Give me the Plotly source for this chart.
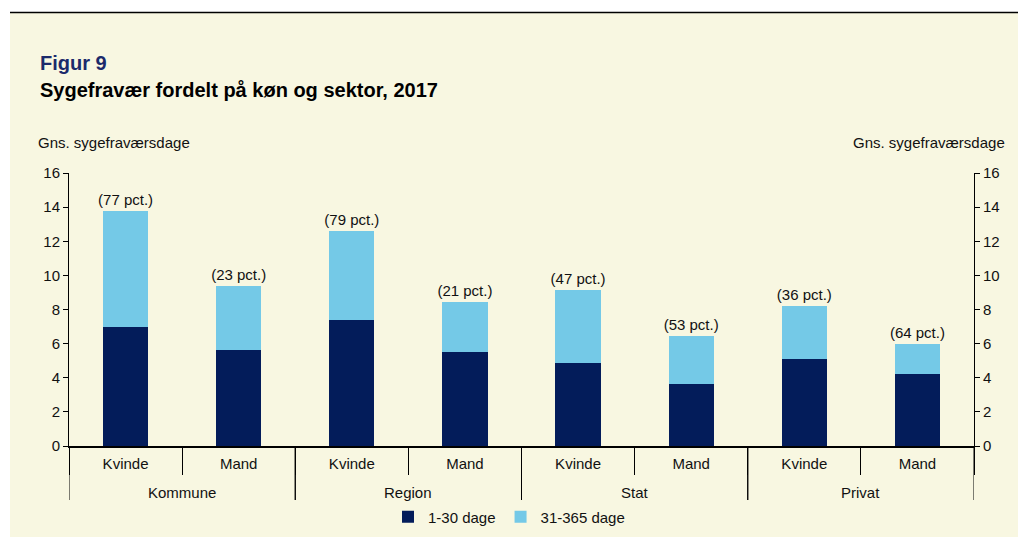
import plotly.graph_objects as go

# ---- data ----
sectors = ["Kommune", "Kommune", "Region", "Region", "Stat", "Stat", "Privat", "Privat"]
genders = ["Kvinde", "Mand", "Kvinde", "Mand", "Kvinde", "Mand", "Kvinde", "Mand"]
short_days = [7.0, 5.6, 7.4, 5.5, 4.85, 3.65, 5.1, 4.2]      # 1-30 dage
long_days = [6.8, 3.75, 5.2, 2.95, 4.3, 2.8, 3.1, 1.78]      # 31-365 dage
pct_labels = ["(77 pct.)", "(23 pct.)", "(79 pct.)", "(21 pct.)",
              "(47 pct.)", "(53 pct.)", "(36 pct.)", "(64 pct.)"]
y_ticks = [0, 2, 4, 6, 8, 10, 12, 14, 16]

W, H = 1018, 537
ML, MR, MT, MB = 69, 44, 173, 91
PW, PH = W - ML - MR, H - MT - MB

def px_x(px):
    return (px - ML) / PW

def px_y(py):
    return (H - MB - py) / PH

FONT = "Liberation Sans, Arial, sans-serif"
TXT = "#111111"
DARK = "#031c5a"
LIGHT = "#74c9e7"
BG = "#f8f7e1"

cats = [f"{s}|{g}" for s, g in zip(sectors, genders)]
totals = [a + b for a, b in zip(short_days, long_days)]

fig = go.Figure()
fig.add_trace(go.Bar(x=cats, y=short_days, name="1-30 dage",
                     marker=dict(color=DARK, line=dict(width=0)), hoverinfo="skip"))
fig.add_trace(go.Bar(x=cats, y=long_days, name="31-365 dage",
                     marker=dict(color=LIGHT, line=dict(width=0)),
                     text=pct_labels, textposition="outside", cliponaxis=False, constraintext="none",
                     textfont=dict(size=15, color=TXT, family=FONT), hoverinfo="skip"))
# invisible trace to activate right axis
fig.add_trace(go.Scatter(x=cats, y=totals, yaxis="y2", mode="markers",
                         marker=dict(opacity=0), showlegend=False, hoverinfo="skip"))

shapes = [
    dict(type="rect", xref="paper", yref="paper", x0=px_x(0), x1=px_x(W), y0=px_y(12.5), y1=px_y(0),
         fillcolor="white", line=dict(width=0), layer="below"),
    dict(type="rect", xref="paper", yref="paper", x0=px_x(0), x1=px_x(10), y0=px_y(H), y1=px_y(0),
         fillcolor="white", line=dict(width=0), layer="below"),
    dict(type="line", xref="paper", yref="paper", x0=px_x(10), x1=px_x(W), y0=px_y(12.5), y1=px_y(12.5),
         line=dict(color="black", width=1.5)),
]

# sector group dividers and labels
unique_sectors = []
for s in sectors:
    if s not in unique_sectors:
        unique_sectors.append(s)
annotations = []
for s in unique_sectors:
    idx = [i for i, v in enumerate(sectors) if v == s]
    lo, hi = idx[0] - 0.5, idx[-1] + 0.5
    for xb in (lo, hi):
        shapes.append(dict(type="line", xref="x", yref="paper", x0=xb, x1=xb, y0=0, y1=px_y(500),
                           line=dict(color="#000", width=1)))
    annotations.append(dict(text=s, xref="x", yref="paper", x=(lo + hi) / 2, y=px_y(492),
                            xanchor="center", yanchor="middle", showarrow=False,
                            font=dict(size=15, color=TXT, family=FONT)))

annotations += [
    dict(text="<b>Figur 9</b>", xref="paper", yref="paper", x=px_x(38), y=px_y(63), xanchor="left",
         yanchor="middle", showarrow=False, font=dict(size=20, color="#1b2a6b", family=FONT)),
    dict(text="<b>Sygefravær fordelt på køn og sektor, 2017</b>", xref="paper", yref="paper",
         x=px_x(38), y=px_y(90), xanchor="left", yanchor="middle", showarrow=False,
         font=dict(size=20, color="#000000", family=FONT)),
    dict(text="Gns. sygefraværsdage", xref="paper", yref="paper", x=px_x(36), y=px_y(142),
         xanchor="left", yanchor="middle", showarrow=False, font=dict(size=15, color=TXT, family=FONT)),
    dict(text="Gns. sygefraværsdage", xref="paper", yref="paper", x=px_x(1007), y=px_y(142),
         xanchor="right", yanchor="middle", showarrow=False, font=dict(size=15, color=TXT, family=FONT)),
]

axis_common = dict(range=[0, 16], tickvals=y_ticks, showgrid=False, zeroline=False, ticks="outside",
                   ticklen=5, tickcolor="#000", tickwidth=1, showline=True, linecolor="#000", linewidth=1,
                   tickfont=dict(size=15, color=TXT, family=FONT), fixedrange=True)

fig.update_layout(
    width=W, height=H, autosize=False,
    margin=dict(l=ML, r=MR, t=MT, b=MB, pad=0, autoexpand=False),
    paper_bgcolor=BG, plot_bgcolor=BG,
    barmode="stack", bargap=0.6,
    font=dict(family=FONT, size=15, color=TXT),
    xaxis=dict(type="category", tickvals=cats, ticktext=genders, range=[-0.5, len(cats) - 0.5],
               showline=True, linecolor="#000", linewidth=1.5,
               ticks="outside", tickson="boundaries", ticklen=27, tickcolor="#000", tickwidth=1,
               ticklabelstandoff=3,
               tickfont=dict(size=15, color=TXT, family=FONT), showgrid=False, fixedrange=True),
    yaxis=dict(side="left", **axis_common),
    yaxis2=dict(side="right", overlaying="y", **axis_common),
    legend=dict(orientation="h", x=0.5, xanchor="center", xref="container",
                y=1 - 517 / H, yanchor="middle", yref="container",
                font=dict(size=15, color=TXT, family=FONT), bgcolor="rgba(0,0,0,0)",
                itemwidth=30, traceorder="normal"),
    shapes=shapes, annotations=annotations,
    showlegend=True,
)

fig.write_html("out.html", config={"displayModeBar": False},
               post_script="document.body.style.margin='0';document.body.style.overflow='hidden';")
